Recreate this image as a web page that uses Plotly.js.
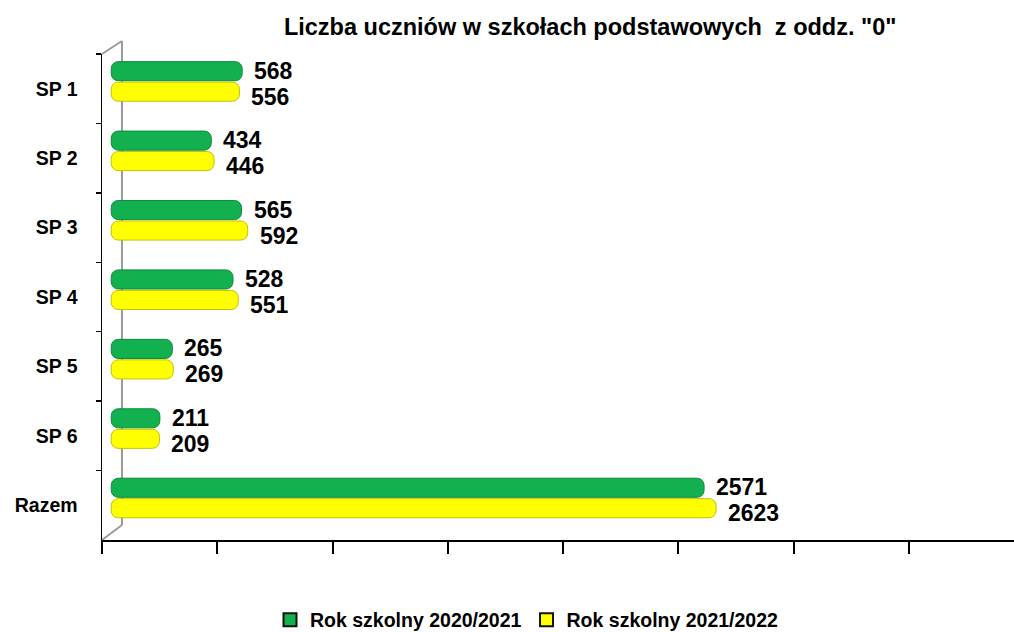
<!DOCTYPE html>
<html>
<head>
<meta charset="utf-8">
<script src="https://cdn.plot.ly/plotly-3.0.1.min.js"></script>
<style>
  html, body { margin: 0; padding: 0; background: #ffffff; overflow: hidden; }
  #chart { width: 1014px; height: 632px; }
</style>
</head>
<body>
<div id="chart"></div>
<script>
// ---- Data ----
const categories = ['SP 1', 'SP 2', 'SP 3', 'SP 4', 'SP 5', 'SP 6', 'Razem'];
const series2020 = [568, 434, 565, 528, 265, 211, 2571];
const series2021 = [556, 446, 592, 551, 269, 209, 2623];
const seriesNames = ['Rok szkolny 2020/2021', 'Rok szkolny 2021/2022'];
const chartTitle = 'Liczba uczniów w szkołach podstawowych  z oddz. "0"';

// ---- Style ----
const FONT = 'Liberation Sans, Arial, sans-serif';
const depthShift = 40;          // 3D depth offset of the bars (axis units)
const barWidth = 0.275;
const GREEN = '#13B04F', GREEN_EDGE = '#0C8A3D';
const YELLOW = '#FFFF00', YELLOW_EDGE = '#C2C200';

function barTrace(values, name, fill, edge, offset) {
  return {
    type: 'bar',
    orientation: 'h',
    y: categories,
    x: values,
    base: depthShift,
    name: name,
    offset: offset,
    width: barWidth,
    showlegend: false,
    marker: { color: fill, line: { color: edge, width: 1 }, cornerradius: 7 },
    hoverinfo: 'skip'
  };
}

function legendTrace(name, fill) {
  return {
    type: 'scatter', mode: 'markers', name: name,
    x: [null], y: [null],
    marker: { symbol: 'square', size: 13, color: fill, line: { color: '#111111', width: 2 } },
    hoverinfo: 'skip', showlegend: true
  };
}

function labelAnnotations(values, yshift) {
  return values.map((v, i) => ({
    x: depthShift + v, y: categories[i], xref: 'x', yref: 'y',
    text: String(v), showarrow: false,
    xanchor: 'left', yanchor: 'middle', xshift: 10, yshift: yshift,
    font: { family: FONT, size: 23, color: '#000000', weight: 'bold' }
  }));
}

const traces = [
  barTrace(series2020, seriesNames[0], GREEN, GREEN_EDGE, -0.39),
  barTrace(series2021, seriesNames[1], YELLOW, YELLOW_EDGE, -0.095),
  legendTrace(seriesNames[0], GREEN),
  legendTrace(seriesNames[1], YELLOW)
];

const wall = '#9A9A9A';
const layout = {
  width: 1014,
  height: 632,
  paper_bgcolor: '#ffffff',
  plot_bgcolor: '#ffffff',
  margin: { l: 102, r: 0, t: 54, b: 92 },
  barmode: 'overlay',
  showlegend: true,
  title: {
    text: '<b>' + chartTitle + '</b>',
    font: { family: FONT, size: 23.5, color: '#000000' },
    xref: 'container', x: 0.582, xanchor: 'center',
    yref: 'container', y: 0.957, yanchor: 'middle'
  },
  font: { family: FONT, color: '#000000' },
  xaxis: {
    range: [0, 3955],
    dtick: 500,
    tick0: 0,
    showgrid: false,
    zeroline: false,
    showline: true,
    linecolor: '#000000',
    linewidth: 2,
    ticks: 'outside',
    ticklen: 12,
    tickwidth: 2,
    tickcolor: '#000000',
    showticklabels: false,
    fixedrange: true
  },
  yaxis: {
    type: 'category',
    categoryorder: 'array',
    categoryarray: categories,
    autorange: 'reversed',
    showgrid: false,
    zeroline: false,
    showline: true,
    linecolor: '#000000',
    linewidth: 1.5,
    ticks: 'outside',
    tickson: 'boundaries',
    ticklen: 5,
    tickwidth: 1.5,
    tickcolor: '#000000',
    ticklabelstandoff: 19,
    tickfont: { family: FONT, size: 19.5, color: '#000000', weight: 'bold' },
    fixedrange: true
  },
  legend: {
    orientation: 'h',
    xref: 'container', x: 270 / 1014, xanchor: 'left',
    yref: 'container', y: 0.019, yanchor: 'middle',
    font: { family: FONT, size: 19.5, color: '#000000', weight: 'bold' },
    itemwidth: 30,
    traceorder: 'normal'
  },
  annotations: labelAnnotations(series2020, 18).concat(labelAnnotations(series2021, -8)),
  shapes: [
    { type: 'line', xref: 'paper', yref: 'paper', x0: 0, y0: 1, x1: 0.0219, y1: 1.0267,
      line: { color: wall, width: 2 }, layer: 'below' },
    { type: 'line', xref: 'paper', yref: 'paper', x0: 0.0219, y0: 1.0267, x1: 0.0219, y1: 0.0309,
      line: { color: wall, width: 2 }, layer: 'below' },
    { type: 'line', xref: 'paper', yref: 'paper', x0: 0, y0: 0, x1: 0.0219, y1: 0.0309,
      line: { color: wall, width: 2 }, layer: 'below' }
  ]
};

Plotly.newPlot('chart', traces, layout, { displayModeBar: false, staticPlot: true });
</script>
</body>
</html>
